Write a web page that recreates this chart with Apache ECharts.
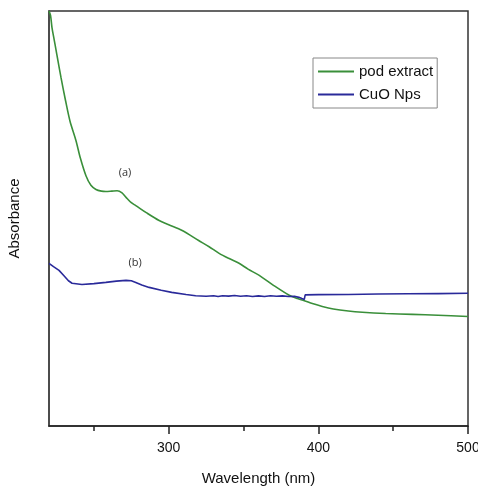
<!DOCTYPE html>
<html><head><meta charset="utf-8">
<script src="https://cdn.jsdelivr.net/npm/echarts@6/dist/echarts.min.js"></script>
<style>html,body{margin:0;padding:0;background:#fff}#c{width:478px;height:490px}</style>
</head><body><div id="c"></div>
<script>
// Series names
var seriesNames = ['pod extract', 'CuO Nps'];
// pod extract: wavelength (nm) and absorbance (arb. units)
var podWavelength = [220,221,222,223.5,224.5,226,228,231,234,238,241,244.7,248,251.4,255,258,262,265.5,268.8,271.5,275,278,285,293.6,300,309,320,327,333.7,340,347,353,360.5,370,380.5,386,390.6,396,402.6,410,420,429.4,445,462.8,480,500];
var podAbsorbance = [1.0,0.99,0.96,0.93,0.91,0.88,0.84,0.785,0.735,0.688,0.645,0.603,0.58,0.57,0.566,0.565,0.566,0.567,0.562,0.551,0.538,0.531,0.514,0.495,0.485,0.471,0.447,0.432,0.416,0.404,0.392,0.378,0.363,0.339,0.315,0.307,0.302,0.295,0.288,0.282,0.277,0.274,0.271,0.269,0.267,0.264];
// CuO Nps
var cuoWavelength = [220,223,226.7,230,233,235.4,242,250,258,265,271.5,275,278,282,286.9,295,302,311.6,318,325,330,333,336,340,344,348,352,356,360,364,368,372,376,380,384,387,389,390.6,391.2,400,420,440,460,480,500];
var cuoAbsorbance = [0.392,0.384,0.375,0.362,0.35,0.344,0.341,0.343,0.346,0.349,0.351,0.35,0.346,0.34,0.334,0.327,0.322,0.317,0.314,0.3125,0.314,0.312,0.314,0.313,0.3145,0.3125,0.314,0.312,0.3135,0.312,0.314,0.3125,0.3135,0.312,0.3125,0.310,0.307,0.305,0.316,0.3165,0.317,0.318,0.3185,0.319,0.3197];
// Axis
var xMin = 220, xMax = 500;
var majorTicks = [300, 400, 500];
var minorTicks = [250, 350, 450];
// Annotations: [label, wavelength, absorbance]
var annotations = [['(a)', 270.8, 0.61], ['(b)', 277.5, 0.392]];

function zip(a, b) { return a.map(function (v, i) { return [v, b[i]]; }); }

var chart = echarts.init(document.getElementById('c'), null, {renderer: 'canvas'});
var font = 'Liberation Sans, Arial, sans-serif';
function annot(a) {
  return {
    name: a[0], coord: [a[1], a[2]], symbol: 'circle', symbolSize: 1,
    itemStyle: {color: 'rgba(0,0,0,0)'},
    label: {show: true, position: 'inside', formatter: '{b}', fontFamily: 'Open Sans, sans-serif', fontSize: 11, color: '#333'}
  };
}
chart.setOption({
  animation: false,
  backgroundColor: '#fff',
  grid: {left: 49, right: 10, top: 11, bottom: 64, containLabel: false, outerBoundsMode: 'none',
         show: true, borderColor: '#333', borderWidth: 1.5},
  legend: {
    data: seriesNames, orient: 'vertical', left: 313, top: 58,
    borderColor: '#888', borderWidth: 1, borderRadius: 0,
    padding: [6, 4, 6, 5], itemGap: 8, itemWidth: 36, itemHeight: 2, icon: 'rect',
    textStyle: {fontFamily: font, fontSize: 15, color: '#111'}
  },
  xAxis: [{
    type: 'value', min: xMin, max: xMax,
    name: 'Wavelength (nm)', nameLocation: 'middle', nameGap: 45,
    nameTextStyle: {fontFamily: font, fontSize: 15, color: '#111'},
    axisLine: {show: true, onZero: false, lineStyle: {color: '#222', width: 1.5}},
    axisTick: {show: true, inside: false, length: 8, customValues: majorTicks, lineStyle: {color: '#222', width: 1.5}},
    axisLabel: {show: true, customValues: majorTicks, margin: 15, fontFamily: font, fontSize: 14, color: '#111'},
    splitLine: {show: false}
  }, {
    type: 'value', min: xMin, max: xMax, position: 'bottom',
    axisLine: {show: false},
    axisTick: {show: true, inside: false, length: 5, customValues: minorTicks, lineStyle: {color: '#222', width: 1.5}},
    axisLabel: {show: false}, splitLine: {show: false}
  }],
  yAxis: {
    type: 'value', min: 0, max: 1,
    name: 'Absorbance', nameLocation: 'middle', nameGap: 27, nameRotate: 90,
    nameTextStyle: {fontFamily: font, fontSize: 15, color: '#111'},
    axisLine: {show: true, onZero: false, lineStyle: {color: '#444', width: 1.5}},
    axisTick: {show: false}, axisLabel: {show: false}, splitLine: {show: false}
  },
  series: [{
    name: seriesNames[0], type: 'line', data: zip(podWavelength, podAbsorbance),
    showSymbol: false, smooth: 0.3, clip: true,
    lineStyle: {color: '#3a8f3a', width: 1.6}, itemStyle: {color: '#3a8f3a'},
    markPoint: {data: [annot(annotations[0])]}
  }, {
    name: seriesNames[1], type: 'line', data: zip(cuoWavelength, cuoAbsorbance),
    showSymbol: false, smooth: false, clip: true,
    lineStyle: {color: '#2a2a9a', width: 1.6}, itemStyle: {color: '#2a2a9a'},
    markPoint: {data: [annot(annotations[1])]}
  }]
});
</script></body></html>
